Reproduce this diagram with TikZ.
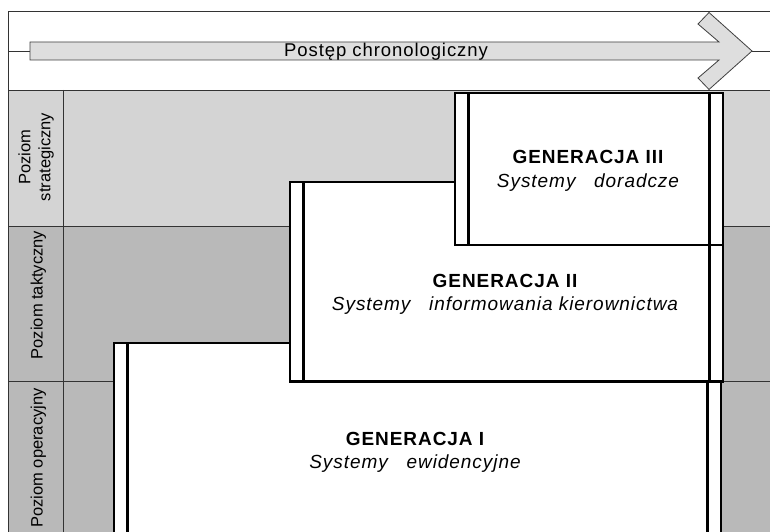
\documentclass[tikz,border=0pt]{standalone}
\usepackage{fontspec}
\setmainfont{Liberation Sans}
\newfontfamily\widefont[LetterSpace=5]{Liberation Sans}
\usetikzlibrary{positioning}
\definecolor{lightband}{gray}{0.83}
\definecolor{darkband}{gray}{0.725}
\definecolor{arrowfill}{gray}{0.87}

\begin{document}
\begin{tikzpicture}[x=1pt, y=-1pt,
band/.style={draw=black!80, line width=0.8pt},
genbox/.style={draw=black, line width=2.4pt, fill=white, inner sep=0pt,
  path picture={
    \draw[line width=2.4pt]
    ([xshift=13.5pt]path picture bounding box.north west) -- ([xshift=13.5pt]path picture bounding box.south west)
    ([xshift=-13.5pt]path picture bounding box.north east) -- ([xshift=-13.5pt]path picture bounding box.south east);}},
gentitle/.style={font=\widefont\fontsize{19}{22}\selectfont\bfseries, anchor=base, inner sep=0pt},
gensub/.style={font=\widefont\fontsize{19}{22}\selectfont\itshape, anchor=base, inner sep=0pt},
level/.style={font=\fontsize{16.5}{20}\selectfont, rotate=90, align=center, inner sep=0pt}]
\useasboundingbox (0,0) rectangle (770,532);
\clip (0,0) rectangle (770,532);

% pasy poziomow
\fill[white] (8,11) rectangle (780,90);
\fill[lightband] (8,90) rectangle (780,226);
\fill[darkband] (8,226) rectangle (780,560);
\draw[band] (780,11) -- (8,11) -- (8,560);
\draw[band] (8,90) -- (780,90) (8,226) -- (780,226) (8,381.5) -- (780,381.5) (63,90) -- (63,560);
\draw[band] (8,51) -- (30,51) (752,51) -- (780,51);

% strzalka czasu
\draw[draw=black!75, fill=arrowfill, line width=0.8pt]
(30,42) -- (719,42) -- (698,24) -- (709,12.5) -- (752,51) -- (709,89.5) -- (698,78) -- (719,60) -- (30,60) -- cycle;
\node[font=\widefont\fontsize{18.5}{20}\selectfont, anchor=base, inner sep=0pt] (chrono) at (386,57) {Postęp chronologiczny};

\node[level] (strat) at (36,157) {Poziom\\strategiczny};
\node[level, anchor=base] (takt) at (42.5,295) {Poziom taktyczny};
\node[level, anchor=base] (oper) at (42.5,458) {Poziom operacyjny};

% generacje
\node[genbox, minimum width=607pt, minimum height=230pt] (gen1) at (417.5,458) {};
\node[genbox, minimum width=433pt, minimum height=199.5pt] (gen2) at (506.5,281.75) {};
\node[genbox, minimum width=268pt, minimum height=152pt] (gen3) at (589,169) {};

\node[gentitle] (t1) at (415,445) {GENERACJA I};
\node[gensub] (s1) at (415,468) {Systemy~~~ewidencyjne};
\node[gentitle] (t2) at (505,287) {GENERACJA II};
\node[gensub] (s2) at (505,310) {Systemy~~~informowania kierownictwa};
\node[gentitle] (t3) at (588,163) {GENERACJA III};
\node[gensub] (s3) at (588,187) {Systemy~~~doradcze};
\end{tikzpicture}
\end{document}
